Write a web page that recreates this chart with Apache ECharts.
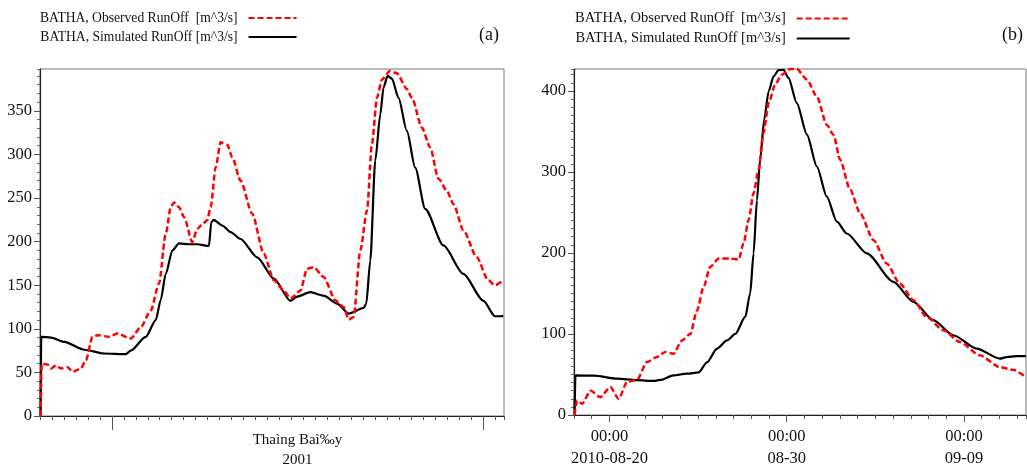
<!DOCTYPE html>
<html><head><meta charset="utf-8">
<script src="https://cdn.jsdelivr.net/npm/echarts@6/dist/echarts.min.js"></script>
<style>html,body{margin:0;padding:0;background:#fff}#c{width:1027px;height:469px}</style>
</head><body><div id="c"></div><script>
const seriesNames = ['BATHA, Observed RunOff  [m^3/s]', 'BATHA, Simulated RunOff [m^3/s]'];

// Chart (a): x = days since 2001-07-01 00:00
const aObsDays = [-5.95, -5.86, -5.36, -5.08, -4.67, -4.25, -3.69, -3.28, -2.58, -2.17, -1.61, -1.19, -0.22, 0.47, 1.58, 2.42, 3.25, 3.94, 4.5, 4.92, 5.19, 5.61, 6.03, 6.72, 7.14, 7.56, 7.97, 8.25, 8.67, 9.08, 9.64, 10.06, 10.75, 11.72, 12.69, 13.53, 14.36, 14.92, 15.75, 16.31, 16.86, 17.69, 18.67, 19.36, 19.78, 20.19, 20.75, 21.31, 21.72, 22.14, 22.56, 23.25, 23.81, 24.64, 25.06, 25.89, 26.58, 27.28, 27.97, 28.53, 29.36, 30.47, 31.44, 32.0, 32.69];
const aObsValues = [0, 60, 59, 54.5, 58, 54.5, 56, 50.7, 54.5, 64, 90.8, 92.7, 90.8, 94.6, 88.9, 102, 121, 152, 209, 239.5, 245, 239.5, 228, 199.5, 214.7, 220, 224.5, 239.5, 285, 313.9, 311, 296.7, 270, 232, 186, 155.6, 144, 134.6, 144, 169, 170.6, 159.4, 132.7, 125, 110.6, 113.5, 190, 235.7, 312, 365, 386, 396, 393, 375, 365, 331, 308, 272, 258.6, 243, 213, 182, 155.6, 150, 155.6];
const aSimDays = [-5.95, -5.9, -5.08, -3.97, -2.31, -0.64, 1.17, 1.58, 2.83, 3.67, 4.08, 4.5, 5.06, 5.61, 6.44, 7.14, 8.11, 8.3, 8.5, 9.22, 9.92, 10.75, 12.14, 13.53, 14.92, 15.47, 16.58, 17.69, 18.81, 19.78, 21.03, 21.25, 21.58, 22.0, 22.42, 22.69, 23.03, 23.39, 23.94, 24.64, 25.33, 26.17, 27.69, 29.36, 31.03, 32.0, 32.69];
const aSimValues = [0, 90.8, 90, 85, 76, 71.7, 71, 75, 90.8, 110, 133, 163, 190, 198, 197, 197, 195, 222, 225, 218.5, 211, 203, 182, 157.5, 132, 137, 142, 138, 129, 117.5, 124, 129, 178, 293, 346, 377, 390, 387, 365, 327, 285, 237.6, 195.6, 163, 132, 114.4, 114.5];
const aYTicks = [0, 50, 100, 150, 200, 250, 300, 350];
const aMonthTicks = [0, 31];
const aMonthLabelAt = [15.5];
const aMonthLabel = 'Thaìng Baì‰y\n2001';

// Chart (b): x = days since 2010-08-20 00:00
const bObsDays = [-1.97, -1.82, -1.54, -1.07, -0.51, 0.05, 0.52, 0.99, 1.56, 2.12, 2.68, 3.15, 3.62, 4.09, 4.56, 4.94, 5.31, 5.69, 6.16, 6.82, 7.29, 7.57, 7.85, 8.13, 8.41, 8.69, 8.98, 9.35, 9.73, 10.20, 10.57, 11.14, 11.70, 12.26, 12.64, 13.01, 13.58, 14.14, 14.89, 15.64, 16.39, 17.15, 17.90, 18.84, 19.78, 20.90, 22.03, 22.78, 23.49];
const bObsValues = [0, 18, 13.8, 30, 22, 34.5, 20, 40.6, 43.5, 65.4, 71.6, 77.8, 75.7, 92, 100, 129, 158, 183, 193, 193, 192, 212, 240.7, 273.7, 302.6, 348, 385, 407.8, 420, 427, 427, 414, 393, 358, 346, 315, 278, 249, 216, 187, 162, 141.7, 121, 104.6, 90, 73.6, 59, 55.7, 46.8];
const bSimDays = [-1.97, -1.92, -0.88, 0.43, 1.56, 2.50, 2.87, 3.62, 4.38, 5.03, 5.50, 6.07, 6.63, 7.10, 7.66, 7.94, 8.13, 8.32, 8.50, 8.73, 8.98, 9.26, 9.54, 9.82, 10.10, 10.57, 11.14, 11.70, 12.26, 12.83, 13.39, 14.52, 16.02, 17.15, 18.27, 19.40, 20.72, 22.03, 22.40, 22.97, 23.49];
const bSimValues = [0, 48.9, 48.5, 44.8, 43, 42, 43.3, 48.9, 51, 52.5, 65, 82, 92, 100, 121, 150, 199.5, 265, 315, 364.5, 399.5, 418, 425.5, 426, 416, 385, 346, 306.7, 269.6, 238.6, 224, 199.5, 164.4, 139.6, 117, 98.4, 81.9, 69.5, 71.5, 72.7, 72.7];
const bYTicks = [0, 100, 200, 300, 400];
const bTickDays = [0, 10, 20];
const bTickLabels = ['00:00\n2010-08-20', '00:00\n08-30', '00:00\n09-09'];

const FONT = '"Liberation Serif", "DejaVu Serif", serif';
const zip = (xs, ys) => xs.map((x, i) => [x, ys[i]]);

const chart = echarts.init(document.getElementById('c'), null, {renderer: 'canvas'});

function minorX(grid, min, max) {
  return {
    gridIndex: grid, type: 'value', position: 'bottom', offset: 0, min: min, max: max, interval: 1,
    axisLine: {show: true, onZero: false, lineStyle: {color: '#222', width: 1.2}},
    axisTick: {show: true, inside: false, length: 4, lineStyle: {color: '#555'}},
    axisLabel: {show: false}, splitLine: {show: false}
  };
}
function minorY(grid, max) {
  return {
    gridIndex: grid, type: 'value', position: 'left', offset: 0, min: 0, max: max, interval: 10,
    axisLine: {show: true, onZero: false, lineStyle: {color: '#222', width: 1.2}},
    axisTick: {show: true, inside: false, length: 3, lineStyle: {color: '#666'}},
    axisLabel: {show: false}, splitLine: {show: false}
  };
}
function majorY(grid, max, ticks) {
  return {
    gridIndex: grid, type: 'value', position: 'left', offset: 0, min: 0, max: max,
    axisLine: {show: false, onZero: false},
    axisTick: {show: true, inside: false, length: 6, customValues: ticks, lineStyle: {color: '#555'}},
    axisLabel: {show: true, customValues: ticks, margin: 8, color: '#111', fontFamily: FONT, fontSize: 16.5},
    splitLine: {show: false}
  };
}
const lineObs = {color: '#ff0000', width: 2.5, type: [6, 3]};
const lineSim = {color: '#000000', width: 2.2};

function legend(left, top, w, fs) {
  return {data: seriesNames, orient: 'vertical', left: left, top: top, align: 'right', itemWidth: w, itemHeight: 14, itemGap: 5,
          itemStyle: {opacity: 0}, textStyle: {fontFamily: FONT, fontSize: fs, color: '#111', padding: [0, 6, 0, 0]}};
}

const option = {
  backgroundColor: '#fff',
  animation: false,
  grid: [
    {left: 40, top: 69, width: 464, height: 347, outerBoundsMode: 'none', containLabel: false, show: true, borderColor: '#777', borderWidth: 1, backgroundColor: 'transparent'},
    {left: 574, top: 69, width: 452, height: 346, outerBoundsMode: 'none', containLabel: false, show: true, borderColor: '#777', borderWidth: 1, backgroundColor: 'transparent'}
  ],
  legend: [legend(35, 6, 48, 13.6), legend(570, 6, 53, 14.5)],
  graphic: [
    {type: 'text', left: 479, top: 26, style: {text: '(a)', font: '18px ' + FONT, fill: '#111'}},
    {type: 'text', left: 1002, top: 26, style: {text: '(b)', font: '18px ' + FONT, fill: '#111'}}
  ],
  xAxis: [
    minorX(0, -6, 32.75),
    {gridIndex: 0, type: 'value', position: 'bottom', offset: 0, min: -6, max: 32.75,
     axisLine: {show: false, onZero: false},
     axisTick: {show: true, inside: false, length: 14, customValues: aMonthTicks, lineStyle: {color: '#555'}},
     axisLabel: {show: true, customValues: aMonthLabelAt, formatter: () => aMonthLabel, margin: 14,
                 color: '#111', fontFamily: FONT, fontSize: 15, lineHeight: 20},
     splitLine: {show: false}},
    minorX(1, -2, 23.5),
    {gridIndex: 1, type: 'value', position: 'bottom', offset: 0, min: -2, max: 23.5,
     axisLine: {show: false, onZero: false},
     axisTick: {show: true, inside: false, length: 7, customValues: bTickDays, lineStyle: {color: '#555'}},
     axisLabel: {show: true, customValues: bTickDays, formatter: v => bTickLabels[bTickDays.indexOf(Math.round(v))] || '',
                 margin: 11, color: '#111', fontFamily: FONT, fontSize: 16.5, lineHeight: 22},
     splitLine: {show: false}}
  ],
  yAxis: [
    minorY(0, 398),
    majorY(0, 398, aYTicks),
    minorY(1, 427),
    majorY(1, 427, bYTicks)
  ],
  series: [
    {name: seriesNames[0], type: 'line', xAxisIndex: 0, yAxisIndex: 0, data: zip(aObsDays, aObsValues),
     symbol: 'none', smooth: 0.25, smoothMonotone: 'x', lineStyle: lineObs, itemStyle: {color: '#ff0000'}, z: 3},
    {name: seriesNames[1], type: 'line', xAxisIndex: 0, yAxisIndex: 0, data: zip(aSimDays, aSimValues),
     symbol: 'none', smooth: 0.25, smoothMonotone: 'x', lineStyle: lineSim, itemStyle: {color: '#000'}, z: 2},
    {name: seriesNames[0], type: 'line', xAxisIndex: 2, yAxisIndex: 2, data: zip(bObsDays, bObsValues),
     symbol: 'none', smooth: 0.25, smoothMonotone: 'x', lineStyle: lineObs, itemStyle: {color: '#ff0000'}, z: 3},
    {name: seriesNames[1], type: 'line', xAxisIndex: 2, yAxisIndex: 2, data: zip(bSimDays, bSimValues),
     symbol: 'none', smooth: 0.25, smoothMonotone: 'x', lineStyle: lineSim, itemStyle: {color: '#000'}, z: 2}
  ]
};
chart.setOption(option);
</script></body></html>
